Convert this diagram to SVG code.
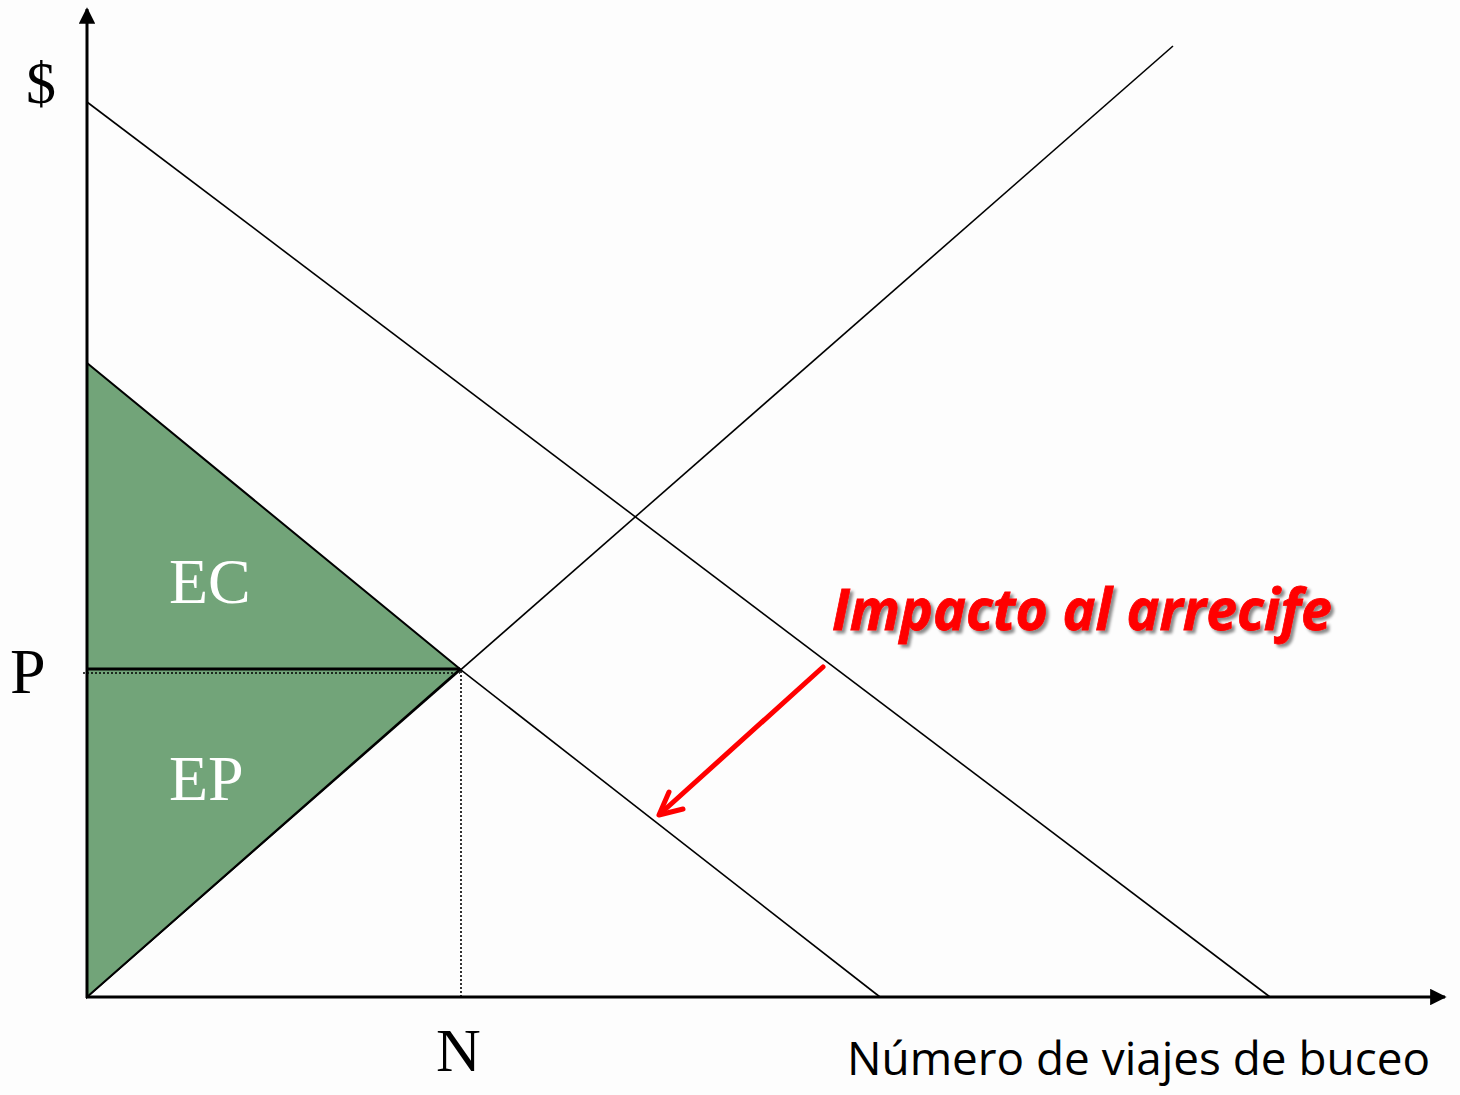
<svg xmlns="http://www.w3.org/2000/svg" width="1460" height="1095" viewBox="0 0 1460 1095">
<defs>
<style>
.ln{stroke:#000;stroke-width:1.6;fill:none}
.ax{stroke:#000;stroke-width:3;fill:none}
.dot{stroke:#000;stroke-width:1.6;stroke-dasharray:2 2;fill:none}
.ser{font-family:"Liberation Serif","Times New Roman",serif;fill:#000}
.wh{fill:#fff}
.red{font-family:"Open Sans","Noto Sans",sans-serif;font-weight:bold;font-style:italic}
</style>
<filter id="sh" x="-5%" y="-20%" width="110%" height="150%">
<feDropShadow dx="3" dy="3" stdDeviation="1.5" flood-color="#000" flood-opacity="0.45"/>
</filter>
<marker id="ah" viewBox="0 0 10 10" refX="9" refY="5" markerWidth="5.5" markerHeight="5.5" orient="auto" markerUnits="strokeWidth">
<path d="M0,0 L10,5 L0,10 Z" fill="#000"/>
</marker>
</defs>
<rect width="1460" height="1095" fill="#fdfdfd"/>
<g id="connectors">
<line class="ln" x1="87" y1="102" x2="1270" y2="997"/>
<line class="ln" x1="87" y1="997" x2="1173" y2="46"/>
<line class="ln" x1="87" y1="378" x2="880" y2="997"/>
</g>
<g id="surplus">
<polygon points="87,363 460,669 87,997" fill="#72a479" stroke="#000" stroke-width="2"/>
<line x1="87" y1="669" x2="460" y2="669" stroke="#000" stroke-width="3"/>
<line class="dot" x1="83" y1="673" x2="460" y2="673"/>
<line class="dot" x1="461" y1="671" x2="461" y2="997"/>
<text class="ser wh" x="169" y="603" font-size="64">EC</text>
<text class="ser wh" x="169" y="800" font-size="64">EP</text>
</g>
<g id="axes">
<line class="ax" x1="87" y1="998" x2="87" y2="9" marker-end="url(#ah)"/>
<line class="ax" x1="86" y1="997" x2="1445" y2="997" marker-end="url(#ah)"/>
<text class="ser" x="26" y="103" font-size="60">$</text>
<text class="ser" x="10" y="693" font-size="64">P</text>
<text class="ser" x="436" y="1071" font-size="62">N</text>
<text x="847" y="1075" font-size="46" font-family="Open Sans, Noto Sans, sans-serif" fill="#000" textLength="583" lengthAdjust="spacingAndGlyphs">Número de viajes de buceo</text>
</g>
<g id="impacto">
<text class="red" x="832" y="630" font-size="58" fill="#ff0000" stroke="#ff0000" stroke-width="0.8" filter="url(#sh)" textLength="500" lengthAdjust="spacingAndGlyphs">Impacto al arrecife</text>
<g stroke="#ff0000" stroke-width="5" stroke-linecap="round" stroke-linejoin="round" fill="none">
<line x1="823" y1="667" x2="660" y2="814"/>
<polyline points="669,792 659,815 683,809"/>
</g>
</g>
</svg>
